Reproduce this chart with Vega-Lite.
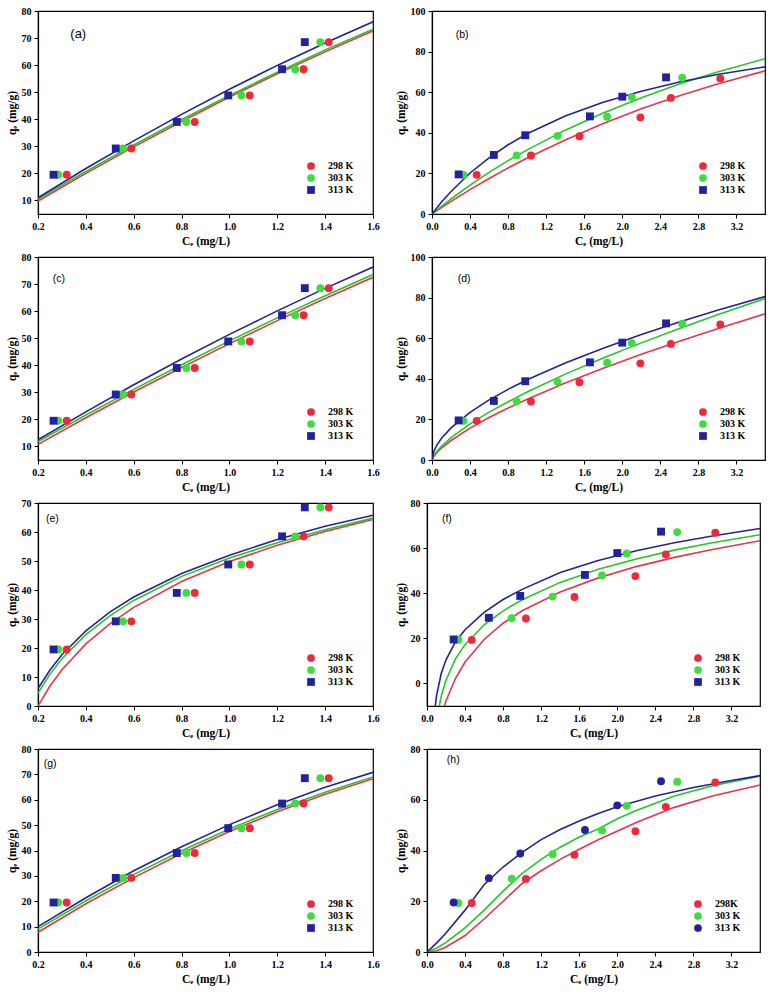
{
"$schema":"https://vega.github.io/schema/vega-lite/v6.json",
"padding":{"left":5,"top":5,"right":5,"bottom":0},
"background":"#ffffff",
"config":{
 "view":{"stroke":"#000","strokeWidth":1.2},
 "axis":{"grid":false,"domainColor":"#000","domainWidth":1.2,"tickColor":"#000","labelColor":"#000","titleColor":"#000","labelFont":"Liberation Serif","labelFontWeight":"bold","labelFontSize":10,"titleFont":"Liberation Serif","titleFontWeight":"bold","titleFontSize":11.5,"tickSize":4,"labelPadding":3,"titlePadding":4,"labelOverlap":false,"labelFlush":false,"labelBound":false},
 "legend":{"labelFont":"Liberation Serif","labelFontWeight":"bold","labelFontSize":10,"labelColor":"#000","symbolSize":60,"rowPadding":2,"labelOffset":12,"padding":0,"symbolStrokeWidth":0},
 "text":{"color":"#000"}
},
"datasets":{
 "pL":[
  {"T":"298 K","Ce":0.32,"qe":19.5},{"T":"298 K","Ce":0.59,"qe":29.2},{"T":"298 K","Ce":0.855,"qe":39},{"T":"298 K","Ce":1.085,"qe":48.8},{"T":"298 K","Ce":1.31,"qe":58.5},{"T":"298 K","Ce":1.415,"qe":68.5},
  {"T":"303 K","Ce":0.285,"qe":19.5},{"T":"303 K","Ce":0.555,"qe":29.2},{"T":"303 K","Ce":0.82,"qe":39},{"T":"303 K","Ce":1.05,"qe":48.8},{"T":"303 K","Ce":1.275,"qe":58.5},{"T":"303 K","Ce":1.38,"qe":68.5},
  {"T":"313 K","Ce":0.265,"qe":19.5},{"T":"313 K","Ce":0.525,"qe":29.2},{"T":"313 K","Ce":0.78,"qe":39},{"T":"313 K","Ce":0.995,"qe":48.8},{"T":"313 K","Ce":1.22,"qe":58.5},{"T":"313 K","Ce":1.315,"qe":68.5}
 ],
 "pR":[
  {"T":"298 K","Ce":0.47,"qe":19.3},{"T":"298 K","Ce":1.04,"qe":28.8},{"T":"298 K","Ce":1.55,"qe":38.3},{"T":"298 K","Ce":2.19,"qe":47.6},{"T":"298 K","Ce":2.51,"qe":57.2},{"T":"298 K","Ce":3.03,"qe":66.8},
  {"T":"303 K","Ce":0.33,"qe":19.3},{"T":"303 K","Ce":0.89,"qe":28.9},{"T":"303 K","Ce":1.32,"qe":38.5},{"T":"303 K","Ce":1.84,"qe":47.9},{"T":"303 K","Ce":2.1,"qe":57.6},{"T":"303 K","Ce":2.63,"qe":67.1},
  {"T":"313 K","Ce":0.28,"qe":19.5},{"T":"313 K","Ce":0.65,"qe":29.1},{"T":"313 K","Ce":0.98,"qe":38.8},{"T":"313 K","Ce":1.66,"qe":48.1},{"T":"313 K","Ce":2.0,"qe":57.8},{"T":"313 K","Ce":2.46,"qe":67.3}
 ],
 "cA":[
  {"T":"298 K","Ce":0.2,"qe":9.8},{"T":"298 K","Ce":0.4,"qe":20.0},{"T":"298 K","Ce":0.6,"qe":29.8},{"T":"298 K","Ce":0.8,"qe":39.2},{"T":"298 K","Ce":1.0,"qe":48.2},{"T":"298 K","Ce":1.2,"qe":56.8},{"T":"298 K","Ce":1.4,"qe":64.9},{"T":"298 K","Ce":1.6,"qe":72.7},
  {"T":"303 K","Ce":0.2,"qe":10.5},{"T":"303 K","Ce":0.4,"qe":20.7},{"T":"303 K","Ce":0.6,"qe":30.5},{"T":"303 K","Ce":0.8,"qe":39.9},{"T":"303 K","Ce":1.0,"qe":48.8},{"T":"303 K","Ce":1.2,"qe":57.4},{"T":"303 K","Ce":1.4,"qe":65.6},{"T":"303 K","Ce":1.6,"qe":73.3},
  {"T":"313 K","Ce":0.2,"qe":11},{"T":"313 K","Ce":0.4,"qe":21.8},{"T":"313 K","Ce":0.6,"qe":32.0},{"T":"313 K","Ce":0.8,"qe":41.8},{"T":"313 K","Ce":1.0,"qe":51.1},{"T":"313 K","Ce":1.2,"qe":59.9},{"T":"313 K","Ce":1.4,"qe":68.2},{"T":"313 K","Ce":1.6,"qe":76}
 ],
 "cC":[
  {"T":"298 K","Ce":0.2,"qe":10.8},{"T":"298 K","Ce":0.4,"qe":20.6},{"T":"298 K","Ce":0.6,"qe":30.1},{"T":"298 K","Ce":0.8,"qe":39.2},{"T":"298 K","Ce":1.0,"qe":48.0},{"T":"298 K","Ce":1.2,"qe":56.5},{"T":"298 K","Ce":1.4,"qe":64.7},{"T":"298 K","Ce":1.6,"qe":72.5},
  {"T":"303 K","Ce":0.2,"qe":11.8},{"T":"303 K","Ce":0.4,"qe":21.6},{"T":"303 K","Ce":0.6,"qe":31.1},{"T":"303 K","Ce":0.8,"qe":40.2},{"T":"303 K","Ce":1.0,"qe":49.0},{"T":"303 K","Ce":1.2,"qe":57.5},{"T":"303 K","Ce":1.4,"qe":65.7},{"T":"303 K","Ce":1.6,"qe":73.5},
  {"T":"313 K","Ce":0.2,"qe":12.5},{"T":"313 K","Ce":0.4,"qe":22.8},{"T":"313 K","Ce":0.6,"qe":32.8},{"T":"313 K","Ce":0.8,"qe":42.3},{"T":"313 K","Ce":1.0,"qe":51.4},{"T":"313 K","Ce":1.2,"qe":60.1},{"T":"313 K","Ce":1.4,"qe":68.4},{"T":"313 K","Ce":1.6,"qe":76.3}
 ],
 "cE":[
  {"T":"298 K","Ce":0.2,"qe":0},{"T":"298 K","Ce":0.25,"qe":6.9},{"T":"298 K","Ce":0.3,"qe":12.5},{"T":"298 K","Ce":0.4,"qe":21.4},{"T":"298 K","Ce":0.5,"qe":28.3},{"T":"298 K","Ce":0.6,"qe":34.0},{"T":"298 K","Ce":0.8,"qe":42.9},{"T":"298 K","Ce":1.0,"qe":49.8},{"T":"298 K","Ce":1.2,"qe":55.4},{"T":"298 K","Ce":1.4,"qe":60.2},{"T":"298 K","Ce":1.6,"qe":64.3},
  {"T":"303 K","Ce":0.2,"qe":4.5},{"T":"303 K","Ce":0.25,"qe":11.0},{"T":"303 K","Ce":0.3,"qe":16.3},{"T":"303 K","Ce":0.4,"qe":24.6},{"T":"303 K","Ce":0.5,"qe":31.1},{"T":"303 K","Ce":0.6,"qe":36.4},{"T":"303 K","Ce":0.8,"qe":44.7},{"T":"303 K","Ce":1.0,"qe":51.0},{"T":"303 K","Ce":1.2,"qe":56.3},{"T":"303 K","Ce":1.4,"qe":60.8},{"T":"303 K","Ce":1.6,"qe":64.8},
  {"T":"313 K","Ce":0.2,"qe":6},{"T":"313 K","Ce":0.25,"qe":12.4},{"T":"313 K","Ce":0.3,"qe":17.7},{"T":"313 K","Ce":0.4,"qe":25.9},{"T":"313 K","Ce":0.5,"qe":32.4},{"T":"313 K","Ce":0.6,"qe":37.6},{"T":"313 K","Ce":0.8,"qe":45.7},{"T":"313 K","Ce":1.0,"qe":52.0},{"T":"313 K","Ce":1.2,"qe":57.4},{"T":"313 K","Ce":1.4,"qe":62.0},{"T":"313 K","Ce":1.6,"qe":65.8}
 ],
 "cG":[
  {"T":"298 K","Ce":0.2,"qe":7.8},{"T":"298 K","Ce":0.4,"qe":19.0},{"T":"298 K","Ce":0.6,"qe":29.3},{"T":"298 K","Ce":0.8,"qe":38.8},{"T":"298 K","Ce":1.0,"qe":47.5},{"T":"298 K","Ce":1.2,"qe":55.3},{"T":"298 K","Ce":1.4,"qe":62.2},{"T":"298 K","Ce":1.6,"qe":68.3},
  {"T":"303 K","Ce":0.2,"qe":9},{"T":"303 K","Ce":0.4,"qe":20.2},{"T":"303 K","Ce":0.6,"qe":30.5},{"T":"303 K","Ce":0.8,"qe":39.9},{"T":"303 K","Ce":1.0,"qe":48.5},{"T":"303 K","Ce":1.2,"qe":56.2},{"T":"303 K","Ce":1.4,"qe":63.0},{"T":"303 K","Ce":1.6,"qe":69},
  {"T":"313 K","Ce":0.2,"qe":10},{"T":"313 K","Ce":0.4,"qe":21.4},{"T":"313 K","Ce":0.6,"qe":32.0},{"T":"313 K","Ce":0.8,"qe":41.5},{"T":"313 K","Ce":1.0,"qe":50.2},{"T":"313 K","Ce":1.2,"qe":58.0},{"T":"313 K","Ce":1.4,"qe":64.9},{"T":"313 K","Ce":1.6,"qe":70.8}
 ],
 "cB":[
  {"T":"298 K","Ce":0,"qe":0},{"T":"298 K","Ce":0.1,"qe":3.2},{"T":"298 K","Ce":0.2,"qe":6.2},{"T":"298 K","Ce":0.4,"qe":12.0},{"T":"298 K","Ce":0.6,"qe":17.5},{"T":"298 K","Ce":0.8,"qe":22.7},{"T":"298 K","Ce":1.0,"qe":27.6},{"T":"298 K","Ce":1.4,"qe":36.5},{"T":"298 K","Ce":1.8,"qe":44.6},{"T":"298 K","Ce":2.2,"qe":51.8},{"T":"298 K","Ce":2.6,"qe":58.2},{"T":"298 K","Ce":3.0,"qe":64.0},{"T":"298 K","Ce":3.5,"qe":70.5},
  {"T":"303 K","Ce":0,"qe":0},{"T":"303 K","Ce":0.1,"qe":3.8},{"T":"303 K","Ce":0.2,"qe":7.4},{"T":"303 K","Ce":0.4,"qe":14.2},{"T":"303 K","Ce":0.6,"qe":20.5},{"T":"303 K","Ce":0.8,"qe":26.3},{"T":"303 K","Ce":1.0,"qe":31.6},{"T":"303 K","Ce":1.4,"qe":41.3},{"T":"303 K","Ce":1.8,"qe":49.8},{"T":"303 K","Ce":2.2,"qe":57.3},{"T":"303 K","Ce":2.6,"qe":64.0},{"T":"303 K","Ce":3.0,"qe":69.9},{"T":"303 K","Ce":3.5,"qe":76.5},
  {"T":"313 K","Ce":0,"qe":0},{"T":"313 K","Ce":0.1,"qe":5.9},{"T":"313 K","Ce":0.2,"qe":11.1},{"T":"313 K","Ce":0.4,"qe":20.2},{"T":"313 K","Ce":0.6,"qe":27.7},{"T":"313 K","Ce":0.8,"qe":34.1},{"T":"313 K","Ce":1.0,"qe":39.5},{"T":"313 K","Ce":1.4,"qe":48.3},{"T":"313 K","Ce":1.8,"qe":55.1},{"T":"313 K","Ce":2.2,"qe":60.5},{"T":"313 K","Ce":2.6,"qe":65.0},{"T":"313 K","Ce":3.0,"qe":68.7},{"T":"313 K","Ce":3.5,"qe":72.5}
 ],
 "cD":[
  {"T":"298 K","Ce":0,"qe":0},{"T":"298 K","Ce":0.02,"qe":1.9},{"T":"298 K","Ce":0.05,"qe":3.6},{"T":"298 K","Ce":0.1,"qe":5.9},{"T":"298 K","Ce":0.2,"qe":9.6},{"T":"298 K","Ce":0.4,"qe":15.7},{"T":"298 K","Ce":0.6,"qe":20.9},{"T":"298 K","Ce":0.8,"qe":25.6},{"T":"298 K","Ce":1.0,"qe":29.9},{"T":"298 K","Ce":1.4,"qe":37.9},{"T":"298 K","Ce":1.8,"qe":45.2},{"T":"298 K","Ce":2.2,"qe":52.1},{"T":"298 K","Ce":2.6,"qe":58.5},{"T":"298 K","Ce":3.0,"qe":64.7},{"T":"298 K","Ce":3.5,"qe":72.0},
  {"T":"303 K","Ce":0,"qe":0},{"T":"303 K","Ce":0.02,"qe":2.2},{"T":"303 K","Ce":0.05,"qe":4.2},{"T":"303 K","Ce":0.1,"qe":6.8},{"T":"303 K","Ce":0.2,"qe":11.0},{"T":"303 K","Ce":0.4,"qe":17.8},{"T":"303 K","Ce":0.6,"qe":23.6},{"T":"303 K","Ce":0.8,"qe":28.7},{"T":"303 K","Ce":1.0,"qe":33.5},{"T":"303 K","Ce":1.4,"qe":42.3},{"T":"303 K","Ce":1.8,"qe":50.2},{"T":"303 K","Ce":2.2,"qe":57.7},{"T":"303 K","Ce":2.6,"qe":64.8},{"T":"303 K","Ce":3.0,"qe":71.5},{"T":"303 K","Ce":3.5,"qe":79.5},
  {"T":"313 K","Ce":0,"qe":0},{"T":"313 K","Ce":0.02,"qe":4.3},{"T":"313 K","Ce":0.05,"qe":7.2},{"T":"313 K","Ce":0.1,"qe":10.7},{"T":"313 K","Ce":0.2,"qe":15.8},{"T":"313 K","Ce":0.4,"qe":23.5},{"T":"313 K","Ce":0.6,"qe":29.6},{"T":"313 K","Ce":0.8,"qe":34.8},{"T":"313 K","Ce":1.0,"qe":39.5},{"T":"313 K","Ce":1.4,"qe":47.8},{"T":"313 K","Ce":1.8,"qe":55.1},{"T":"313 K","Ce":2.2,"qe":61.8},{"T":"313 K","Ce":2.6,"qe":68.0},{"T":"313 K","Ce":3.0,"qe":73.8},{"T":"313 K","Ce":3.5,"qe":80.5}
 ],
 "cF":[
  {"T":"298 K","Ce":0.182,"qe":-10},{"T":"298 K","Ce":0.2,"qe":-7.7},{"T":"298 K","Ce":0.3,"qe":2.3},{"T":"298 K","Ce":0.4,"qe":9.5},{"T":"298 K","Ce":0.6,"qe":19.5},{"T":"298 K","Ce":0.8,"qe":26.7},{"T":"298 K","Ce":1.0,"qe":32.2},{"T":"298 K","Ce":1.4,"qe":40.5},{"T":"298 K","Ce":1.8,"qe":46.8},{"T":"298 K","Ce":2.2,"qe":51.8},{"T":"298 K","Ce":2.6,"qe":55.9},{"T":"298 K","Ce":3.0,"qe":59.4},{"T":"298 K","Ce":3.5,"qe":63.3},
  {"T":"303 K","Ce":0.129,"qe":-10},{"T":"303 K","Ce":0.15,"qe":-5.5},{"T":"303 K","Ce":0.2,"qe":1.5},{"T":"303 K","Ce":0.3,"qe":11},{"T":"303 K","Ce":0.4,"qe":17.2},{"T":"303 K","Ce":0.6,"qe":26.0},{"T":"303 K","Ce":0.8,"qe":32.2},{"T":"303 K","Ce":1.0,"qe":37.1},{"T":"303 K","Ce":1.4,"qe":44.8},{"T":"303 K","Ce":1.8,"qe":50.6},{"T":"303 K","Ce":2.2,"qe":55.2},{"T":"303 K","Ce":2.6,"qe":59.1},{"T":"303 K","Ce":3.0,"qe":62.4},{"T":"303 K","Ce":3.5,"qe":65.9},
  {"T":"313 K","Ce":0.087,"qe":-10},{"T":"313 K","Ce":0.1,"qe":-5.5},{"T":"313 K","Ce":0.15,"qe":4.5},{"T":"313 K","Ce":0.2,"qe":10.5},{"T":"313 K","Ce":0.3,"qe":18.5},{"T":"313 K","Ce":0.4,"qe":23.8},{"T":"313 K","Ce":0.6,"qe":31.5},{"T":"313 K","Ce":0.8,"qe":37.2},{"T":"313 K","Ce":1.0,"qe":41.7},{"T":"313 K","Ce":1.4,"qe":49.2},{"T":"313 K","Ce":1.8,"qe":54.5},{"T":"313 K","Ce":2.2,"qe":58.8},{"T":"313 K","Ce":2.6,"qe":62.4},{"T":"313 K","Ce":3.0,"qe":65.4},{"T":"313 K","Ce":3.5,"qe":68.7}
 ],
 "cH":[
  {"T":"298 K","Ce":0,"qe":0},{"T":"298 K","Ce":0.1,"qe":0.4},{"T":"298 K","Ce":0.2,"qe":2},{"T":"298 K","Ce":0.4,"qe":6.5},{"T":"298 K","Ce":0.6,"qe":13},{"T":"298 K","Ce":0.8,"qe":20},{"T":"298 K","Ce":1.0,"qe":27},{"T":"298 K","Ce":1.2,"qe":32},{"T":"298 K","Ce":1.4,"qe":36.5},{"T":"298 K","Ce":1.6,"qe":40.5},{"T":"298 K","Ce":1.8,"qe":44.2},{"T":"298 K","Ce":2.2,"qe":51},{"T":"298 K","Ce":2.6,"qe":57},{"T":"298 K","Ce":3.0,"qe":61.5},{"T":"298 K","Ce":3.5,"qe":65.8},
  {"T":"303 K","Ce":0,"qe":0},{"T":"303 K","Ce":0.1,"qe":1.5},{"T":"303 K","Ce":0.2,"qe":3.8},{"T":"303 K","Ce":0.4,"qe":9.5},{"T":"303 K","Ce":0.6,"qe":16.5},{"T":"303 K","Ce":0.8,"qe":24},{"T":"303 K","Ce":1.0,"qe":31},{"T":"303 K","Ce":1.2,"qe":36.5},{"T":"303 K","Ce":1.4,"qe":41.3},{"T":"303 K","Ce":1.6,"qe":45.3},{"T":"303 K","Ce":1.8,"qe":48.5},{"T":"303 K","Ce":2.0,"qe":52.5},{"T":"303 K","Ce":2.2,"qe":55.8},{"T":"303 K","Ce":2.6,"qe":61.5},{"T":"303 K","Ce":3.0,"qe":65.5},{"T":"303 K","Ce":3.5,"qe":69.3},
  {"T":"313 K","Ce":0,"qe":0},{"T":"313 K","Ce":0.1,"qe":3.5},{"T":"313 K","Ce":0.2,"qe":7.5},{"T":"313 K","Ce":0.4,"qe":16.5},{"T":"313 K","Ce":0.6,"qe":26.5},{"T":"313 K","Ce":0.8,"qe":33.5},{"T":"313 K","Ce":1.0,"qe":39.3},{"T":"313 K","Ce":1.2,"qe":44.3},{"T":"313 K","Ce":1.4,"qe":48.3},{"T":"313 K","Ce":1.6,"qe":51.6},{"T":"313 K","Ce":1.8,"qe":54.6},{"T":"313 K","Ce":2.0,"qe":57.2},{"T":"313 K","Ce":2.4,"qe":61.5},{"T":"313 K","Ce":2.8,"qe":64.8},{"T":"313 K","Ce":3.2,"qe":67.6},{"T":"313 K","Ce":3.5,"qe":69.5}
 ]
},
"spacing":3,
"resolve":{"scale":{"color":"independent","shape":"independent"},"legend":{"color":"independent","shape":"independent"}},
"vconcat":[
 {"spacing":14,"resolve":{"scale":{"color":"independent","shape":"independent"},"legend":{"color":"independent","shape":"independent"}},
  "hconcat":[
  {"width":335,"height":203,"resolve":{"scale":{"color":"independent","shape":"independent"}},
   "layer":[
    {"data":{"name":"cA"},"mark":{"type":"line","strokeWidth":1.6,"clip":true},
     "encoding":{"x":{"field":"Ce","type":"quantitative","scale":{"domain":[0.2,1.6],"nice":false,"zero":false},"axis":{"values":[0.2,0.4,0.6,0.8,1.0,1.2,1.4,1.6],"tickCount":30,"format":".1f","title":"Cₑ (mg/L)"}},
      "y":{"field":"qe","type":"quantitative","scale":{"domain":[5,80],"nice":false,"zero":false},"axis":{"values":[10,20,30,40,50,60,70,80],"tickCount":30,"title":"qₑ (mg/g)"}},
      "color":{"field":"T","type":"nominal","scale":{"domain":["298 K","303 K","313 K"],"range":["#e8344c","#26c626","#24248f"]},"legend":null}}},
    {"data":{"name":"pL"},"mark":{"type":"point","filled":true,"size":62,"opacity":1},
     "encoding":{"x":{"field":"Ce","type":"quantitative"},"y":{"field":"qe","type":"quantitative"},
      "color":{"field":"T","type":"nominal","scale":{"domain":["298 K","303 K","313 K"],"range":["#f0283a","#3ddd3d","#2222a0"]},"legend":{"orient":"bottom-right","offset":19,"title":null}},
      "shape":{"field":"T","type":"nominal","scale":{"domain":["298 K","303 K","313 K"],"range":["circle","circle","square"]},"legend":{"orient":"bottom-right","offset":19,"title":null}}}},
    {"data":{"values":[{"Ce":0.335,"qe":71.6,"label":"(a)"}]},"mark":{"type":"text","align":"left","baseline":"middle","font":"Liberation Sans","fontSize":13},
     "encoding":{"x":{"field":"Ce","type":"quantitative"},"y":{"field":"qe","type":"quantitative"},"text":{"field":"label"}}}
   ]},
  {"width":333,"height":203,"resolve":{"scale":{"color":"independent","shape":"independent"}},
   "layer":[
    {"data":{"name":"cB"},"mark":{"type":"line","strokeWidth":1.6,"clip":true},
     "encoding":{"x":{"field":"Ce","type":"quantitative","scale":{"domain":[0,3.5],"nice":false,"zero":false},"axis":{"values":[0,0.4,0.8,1.2,1.6,2.0,2.4,2.8,3.2],"tickCount":30,"format":".1f","title":"Cₑ (mg/L)"}},
      "y":{"field":"qe","type":"quantitative","scale":{"domain":[0,100],"nice":false},"axis":{"values":[0,20,40,60,80,100],"tickCount":30,"title":"qₑ (mg/g)"}},
      "color":{"field":"T","type":"nominal","scale":{"domain":["298 K","303 K","313 K"],"range":["#e8344c","#26c626","#24248f"]},"legend":null}}},
    {"data":{"name":"pR"},"mark":{"type":"point","filled":true,"size":62,"opacity":1},
     "encoding":{"x":{"field":"Ce","type":"quantitative"},"y":{"field":"qe","type":"quantitative"},
      "color":{"field":"T","type":"nominal","scale":{"domain":["298 K","303 K","313 K"],"range":["#f0283a","#3ddd3d","#2222a0"]},"legend":{"orient":"bottom-right","offset":19,"title":null}},
      "shape":{"field":"T","type":"nominal","scale":{"domain":["298 K","303 K","313 K"],"range":["circle","circle","square"]},"legend":{"orient":"bottom-right","offset":19,"title":null}}}},
    {"data":{"values":[{"Ce":0.25,"qe":88,"label":"(b)"}]},"mark":{"type":"text","align":"left","baseline":"middle","font":"Liberation Sans","fontSize":10.5},
     "encoding":{"x":{"field":"Ce","type":"quantitative"},"y":{"field":"qe","type":"quantitative"},"text":{"field":"label"}}}
   ]}
 ]},
 {"spacing":14,"resolve":{"scale":{"color":"independent","shape":"independent"},"legend":{"color":"independent","shape":"independent"}},
  "hconcat":[
  {"width":335,"height":203,"resolve":{"scale":{"color":"independent","shape":"independent"}},
   "layer":[
    {"data":{"name":"cC"},"mark":{"type":"line","strokeWidth":1.6,"clip":true},
     "encoding":{"x":{"field":"Ce","type":"quantitative","scale":{"domain":[0.2,1.6],"nice":false,"zero":false},"axis":{"values":[0.2,0.4,0.6,0.8,1.0,1.2,1.4,1.6],"tickCount":30,"format":".1f","title":"Cₑ (mg/L)"}},
      "y":{"field":"qe","type":"quantitative","scale":{"domain":[5,80],"nice":false,"zero":false},"axis":{"values":[10,20,30,40,50,60,70,80],"tickCount":30,"title":"qₑ (mg/g)"}},
      "color":{"field":"T","type":"nominal","scale":{"domain":["298 K","303 K","313 K"],"range":["#e8344c","#26c626","#24248f"]},"legend":null}}},
    {"data":{"name":"pL"},"mark":{"type":"point","filled":true,"size":62,"opacity":1},
     "encoding":{"x":{"field":"Ce","type":"quantitative"},"y":{"field":"qe","type":"quantitative"},
      "color":{"field":"T","type":"nominal","scale":{"domain":["298 K","303 K","313 K"],"range":["#f0283a","#3ddd3d","#2222a0"]},"legend":{"orient":"bottom-right","offset":19,"title":null}},
      "shape":{"field":"T","type":"nominal","scale":{"domain":["298 K","303 K","313 K"],"range":["circle","circle","square"]},"legend":{"orient":"bottom-right","offset":19,"title":null}}}},
    {"data":{"values":[{"Ce":0.262,"qe":71.8,"label":"(c)"}]},"mark":{"type":"text","align":"left","baseline":"middle","font":"Liberation Sans","fontSize":10.5},
     "encoding":{"x":{"field":"Ce","type":"quantitative"},"y":{"field":"qe","type":"quantitative"},"text":{"field":"label"}}}
   ]},
  {"width":333,"height":203,"resolve":{"scale":{"color":"independent","shape":"independent"}},
   "layer":[
    {"data":{"name":"cD"},"mark":{"type":"line","strokeWidth":1.6,"clip":true},
     "encoding":{"x":{"field":"Ce","type":"quantitative","scale":{"domain":[0,3.5],"nice":false,"zero":false},"axis":{"values":[0,0.4,0.8,1.2,1.6,2.0,2.4,2.8,3.2],"tickCount":30,"format":".1f","title":"Cₑ (mg/L)"}},
      "y":{"field":"qe","type":"quantitative","scale":{"domain":[0,100],"nice":false},"axis":{"values":[0,20,40,60,80,100],"tickCount":30,"title":"qₑ (mg/g)"}},
      "color":{"field":"T","type":"nominal","scale":{"domain":["298 K","303 K","313 K"],"range":["#e8344c","#26c626","#24248f"]},"legend":null}}},
    {"data":{"name":"pR"},"mark":{"type":"point","filled":true,"size":62,"opacity":1},
     "encoding":{"x":{"field":"Ce","type":"quantitative"},"y":{"field":"qe","type":"quantitative"},
      "color":{"field":"T","type":"nominal","scale":{"domain":["298 K","303 K","313 K"],"range":["#f0283a","#3ddd3d","#2222a0"]},"legend":{"orient":"bottom-right","offset":19,"title":null}},
      "shape":{"field":"T","type":"nominal","scale":{"domain":["298 K","303 K","313 K"],"range":["circle","circle","square"]},"legend":{"orient":"bottom-right","offset":19,"title":null}}}},
    {"data":{"values":[{"Ce":0.27,"qe":89.2,"label":"(d)"}]},"mark":{"type":"text","align":"left","baseline":"middle","font":"Liberation Sans","fontSize":10.5},
     "encoding":{"x":{"field":"Ce","type":"quantitative"},"y":{"field":"qe","type":"quantitative"},"text":{"field":"label"}}}
   ]}
 ]},
 {"spacing":14,"resolve":{"scale":{"color":"independent","shape":"independent"},"legend":{"color":"independent","shape":"independent"}},
  "hconcat":[
  {"width":335,"height":203,"resolve":{"scale":{"color":"independent","shape":"independent"}},
   "layer":[
    {"data":{"name":"cE"},"mark":{"type":"line","strokeWidth":1.6,"clip":true},
     "encoding":{"x":{"field":"Ce","type":"quantitative","scale":{"domain":[0.2,1.6],"nice":false,"zero":false},"axis":{"values":[0.2,0.4,0.6,0.8,1.0,1.2,1.4,1.6],"tickCount":30,"format":".1f","title":"Cₑ (mg/L)"}},
      "y":{"field":"qe","type":"quantitative","scale":{"domain":[0,70],"nice":false},"axis":{"values":[0,10,20,30,40,50,60,70],"tickCount":30,"title":"qₑ (mg/g)"}},
      "color":{"field":"T","type":"nominal","scale":{"domain":["298 K","303 K","313 K"],"range":["#e8344c","#26c626","#24248f"]},"legend":null}}},
    {"data":{"name":"pL"},"mark":{"type":"point","filled":true,"size":62,"opacity":1},
     "encoding":{"x":{"field":"Ce","type":"quantitative"},"y":{"field":"qe","type":"quantitative"},
      "color":{"field":"T","type":"nominal","scale":{"domain":["298 K","303 K","313 K"],"range":["#f0283a","#3ddd3d","#2222a0"]},"legend":{"orient":"bottom-right","offset":19,"title":null}},
      "shape":{"field":"T","type":"nominal","scale":{"domain":["298 K","303 K","313 K"],"range":["circle","circle","square"]},"legend":{"orient":"bottom-right","offset":19,"title":null}}}},
    {"data":{"values":[{"Ce":0.233,"qe":64.5,"label":"(e)"}]},"mark":{"type":"text","align":"left","baseline":"middle","font":"Liberation Sans","fontSize":10.5},
     "encoding":{"x":{"field":"Ce","type":"quantitative"},"y":{"field":"qe","type":"quantitative"},"text":{"field":"label"}}}
   ]},
  {"width":333,"height":203,"resolve":{"scale":{"color":"independent","shape":"independent"}},
   "layer":[
    {"data":{"name":"cF"},"mark":{"type":"line","strokeWidth":1.6,"clip":true},
     "encoding":{"x":{"field":"Ce","type":"quantitative","scale":{"domain":[0,3.5],"nice":false,"zero":false},"axis":{"values":[0,0.4,0.8,1.2,1.6,2.0,2.4,2.8,3.2],"tickCount":30,"format":".1f","title":"Cₑ (mg/L)"}},
      "y":{"field":"qe","type":"quantitative","scale":{"domain":[-10,80],"nice":false,"zero":false},"axis":{"values":[0,20,40,60,80],"tickCount":30,"title":"qₑ (mg/g)"}},
      "color":{"field":"T","type":"nominal","scale":{"domain":["298 K","303 K","313 K"],"range":["#e8344c","#26c626","#24248f"]},"legend":null}}},
    {"data":{"name":"pR"},"mark":{"type":"point","filled":true,"size":62,"opacity":1},
     "encoding":{"x":{"field":"Ce","type":"quantitative"},"y":{"field":"qe","type":"quantitative"},
      "color":{"field":"T","type":"nominal","scale":{"domain":["298 K","303 K","313 K"],"range":["#f0283a","#3ddd3d","#2222a0"]},"legend":{"orient":"bottom-right","offset":19,"title":null}},
      "shape":{"field":"T","type":"nominal","scale":{"domain":["298 K","303 K","313 K"],"range":["circle","circle","square"]},"legend":{"orient":"bottom-right","offset":19,"title":null}}}},
    {"data":{"values":[{"Ce":0.157,"qe":73.1,"label":"(f)"}]},"mark":{"type":"text","align":"left","baseline":"middle","font":"Liberation Sans","fontSize":10.5},
     "encoding":{"x":{"field":"Ce","type":"quantitative"},"y":{"field":"qe","type":"quantitative"},"text":{"field":"label"}}}
   ]}
 ]},
 {"spacing":14,"resolve":{"scale":{"color":"independent","shape":"independent"},"legend":{"color":"independent","shape":"independent"}},
  "hconcat":[
  {"width":335,"height":203,"resolve":{"scale":{"color":"independent","shape":"independent"}},
   "layer":[
    {"data":{"name":"cG"},"mark":{"type":"line","strokeWidth":1.6,"clip":true},
     "encoding":{"x":{"field":"Ce","type":"quantitative","scale":{"domain":[0.2,1.6],"nice":false,"zero":false},"axis":{"values":[0.2,0.4,0.6,0.8,1.0,1.2,1.4,1.6],"tickCount":30,"format":".1f","title":"Cₑ (mg/L)"}},
      "y":{"field":"qe","type":"quantitative","scale":{"domain":[0,80],"nice":false},"axis":{"values":[0,10,20,30,40,50,60,70,80],"tickCount":30,"title":"qₑ (mg/g)"}},
      "color":{"field":"T","type":"nominal","scale":{"domain":["298 K","303 K","313 K"],"range":["#e8344c","#26c626","#24248f"]},"legend":null}}},
    {"data":{"name":"pL"},"mark":{"type":"point","filled":true,"size":62,"opacity":1},
     "encoding":{"x":{"field":"Ce","type":"quantitative"},"y":{"field":"qe","type":"quantitative"},
      "color":{"field":"T","type":"nominal","scale":{"domain":["298 K","303 K","313 K"],"range":["#f0283a","#3ddd3d","#2222a0"]},"legend":{"orient":"bottom-right","offset":19,"title":null}},
      "shape":{"field":"T","type":"nominal","scale":{"domain":["298 K","303 K","313 K"],"range":["circle","circle","square"]},"legend":{"orient":"bottom-right","offset":19,"title":null}}}},
    {"data":{"values":[{"Ce":0.224,"qe":74.2,"label":"(g)"}]},"mark":{"type":"text","align":"left","baseline":"middle","font":"Liberation Sans","fontSize":10.5},
     "encoding":{"x":{"field":"Ce","type":"quantitative"},"y":{"field":"qe","type":"quantitative"},"text":{"field":"label"}}}
   ]},
  {"width":333,"height":203,"resolve":{"scale":{"color":"independent","shape":"independent"}},
   "layer":[
    {"data":{"name":"cH"},"mark":{"type":"line","strokeWidth":1.6,"clip":true},
     "encoding":{"x":{"field":"Ce","type":"quantitative","scale":{"domain":[0,3.5],"nice":false,"zero":false},"axis":{"values":[0,0.4,0.8,1.2,1.6,2.0,2.4,2.8,3.2],"tickCount":30,"format":".1f","title":"Cₑ (mg/L)"}},
      "y":{"field":"qe","type":"quantitative","scale":{"domain":[0,80],"nice":false},"axis":{"values":[0,20,40,60,80],"tickCount":30,"title":"qₑ (mg/g)"}},
      "color":{"field":"T","type":"nominal","scale":{"domain":["298 K","303 K","313 K"],"range":["#e8344c","#26c626","#24248f"]},"legend":null}}},
    {"data":{"name":"pR"},"mark":{"type":"point","filled":true,"size":62,"opacity":1},
     "encoding":{"x":{"field":"Ce","type":"quantitative"},"y":{"field":"qe","type":"quantitative"},
      "color":{"field":"T","type":"nominal","scale":{"domain":["298 K","303 K","313 K"],"range":["#f0283a","#3ddd3d","#2222a0"]},"legend":{"orient":"bottom-right","offset":19,"title":null,"labelExpr":"datum.label == '298 K' ? '298K' : datum.label"}},
      "shape":{"field":"T","type":"nominal","scale":{"domain":["298 K","303 K","313 K"],"range":["circle","circle","circle"]},"legend":{"orient":"bottom-right","offset":19,"title":null,"labelExpr":"datum.label == '298 K' ? '298K' : datum.label"}}}},
    {"data":{"values":[{"Ce":0.208,"qe":75.5,"label":"(h)"}]},"mark":{"type":"text","align":"left","baseline":"middle","font":"Liberation Sans","fontSize":10.5},
     "encoding":{"x":{"field":"Ce","type":"quantitative"},"y":{"field":"qe","type":"quantitative"},"text":{"field":"label"}}}
   ]}
 ]}
]
}
